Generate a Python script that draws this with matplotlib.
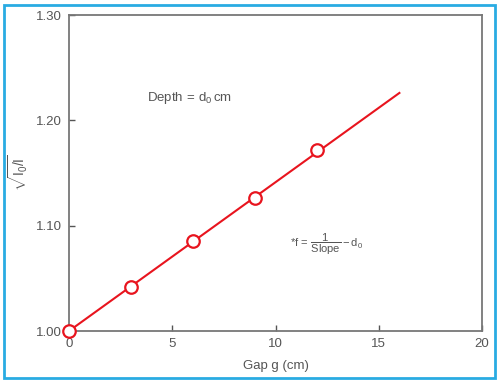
import matplotlib
matplotlib.use("Agg")
import matplotlib.pyplot as plt
from matplotlib.patches import Rectangle

# measured points: gap g (cm) vs sqrt(I0/I)
gap = [0, 3, 6, 9, 12]
ratio = [1.000, 1.042, 1.085, 1.126, 1.172]
# fitted straight line end points
fit_x = [0, 16]
fit_y = [1.000, 1.226]

xticks = [0, 5, 10, 15, 20]
yticks = [1.00, 1.10, 1.20, 1.30]
ytick_labels = ["1.00", "1.10", "1.20", "1.30"]

plt.rcParams['font.family'] = ['Liberation Sans', 'DejaVu Sans']
plt.rcParams['mathtext.fontset'] = 'custom'
plt.rcParams['mathtext.rm'] = 'Liberation Sans'
plt.rcParams['mathtext.it'] = 'Liberation Sans'

gray = '#555555'
red = '#e8141e'

fig = plt.figure(figsize=(5.0, 3.83), dpi=100)
fig.patch.set_facecolor('white')
fig.patches.append(Rectangle((4/500, 5/383), 491/500, 373/383, transform=fig.transFigure,
                             fill=False, edgecolor='#29abe2', linewidth=2))

ax = fig.add_axes([69/500, 1 - 331/383, 413/500, 316/383])
ax.plot(fit_x, fit_y, color=red, lw=1.5, zorder=2)
ax.plot(gap, ratio, 'o', ms=9, mfc='white', mec=red, mew=1.6, zorder=3, clip_on=False)

ax.set_xlim(0, 20)
ax.set_ylim(1.00, 1.30)
ax.set_xticks(xticks)
ax.set_yticks(yticks)
ax.set_yticklabels(ytick_labels)
ax.tick_params(direction='in', length=4, width=1, colors=gray, labelsize=9.5, pad=5)
for s in ax.spines.values():
    s.set_color('#777777')
    s.set_linewidth(1.3)

ax.set_xlabel('Gap g (cm)', color=gray, fontsize=9.5, labelpad=7)
ax.set_ylabel(r'$\sqrt{I_0/I}$', color=gray, fontsize=10, labelpad=4)

ax.text(3.8, 1.2215, r'Depth$\,=\,$d$_0\,$cm', color=gray, fontsize=9.5, va='center')
ax.text(10.7, 1.082, r'*f$\,=\,\dfrac{1}{\mathrm{Slope}}-$d$_0$', color=gray, fontsize=8, va='center')

fig.savefig('out.png', dpi=100)
